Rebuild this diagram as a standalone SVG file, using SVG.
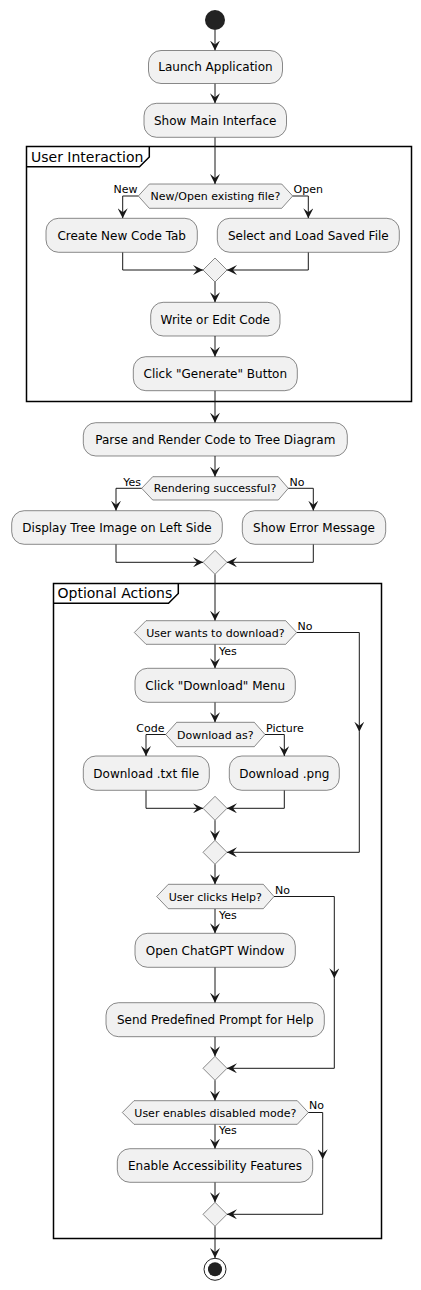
<svg xmlns="http://www.w3.org/2000/svg" width="421" height="1290" viewBox="0 0 421 1290">
<style>
.act{fill:#F1F1F1;stroke:#181818;stroke-width:0.5}
.t{font-family:"DejaVu Sans",sans-serif;font-size:12px;fill:#000;text-anchor:middle}
.d{font-family:"DejaVu Sans",sans-serif;font-size:11px;fill:#000;text-anchor:middle}
.l{font-family:"DejaVu Sans",sans-serif;font-size:11px;fill:#000}
.le{font-family:"DejaVu Sans",sans-serif;font-size:11px;fill:#000;text-anchor:end}
.ft{font-family:"DejaVu Sans",sans-serif;font-size:14px;fill:#000}
.frame{fill:none;stroke:#000;stroke-width:1.5}
.c{fill:none;stroke:#181818;stroke-width:1;marker-end:url(#ah)}
.cn{fill:none;stroke:#181818;stroke-width:1}
</style>
<defs>
<marker id="ah" viewBox="0 0 10 10" refX="10" refY="5" markerWidth="10" markerHeight="10" markerUnits="userSpaceOnUse" orient="auto">
<path d="M0,0 L10,5 L0,10 L4,5 Z" fill="#181818"/>
</marker>
</defs>
<rect width="421" height="1290" fill="#fff"/>
<g id="frames">
<g id="frame-user-interaction">
<rect class="frame" x="26.5" y="146.5" width="385" height="255"/>
<path class="frame" d="M26.5,166.7 L139.5,166.7 L149.3,157 L149.3,146.5"/>
<text class="ft" x="31" y="161.5">User Interaction</text>
</g>
<g id="frame-optional-actions">
<rect class="frame" x="53.5" y="583.5" width="328" height="655"/>
<path class="frame" d="M53.5,603.3 L168.5,603.3 L178.3,593.5 L178.3,583.5"/>
<text class="ft" x="57.5" y="598">Optional Actions</text>
</g>
</g>
<g id="connectors">
<path class="c" d="M215,30 L215,50.5"/>
<path class="c" d="M215,83.5 L215,103.3"/>
<path class="c" d="M215,137.3 L215,184"/>
<path class="c" d="M138.3,196 L122.7,196 L122.7,218.3"/>
<path class="c" d="M292.7,196 L308.3,196 L308.3,218.3"/>
<path class="c" d="M122.7,252.3 L122.7,270 L203,270"/>
<path class="c" d="M308.3,252.3 L308.3,270 L227,270"/>
<path class="c" d="M215,282 L215,302.3"/>
<path class="c" d="M215,336 L215,356.7"/>
<path class="c" d="M215,390.7 L215,422.7"/>
<path class="c" d="M215,456 L215,476.7"/>
<path class="c" d="M141.7,488.3 L116,488.3 L116,510.7"/>
<path class="c" d="M288.3,488.3 L313.3,488.3 L313.3,510.7"/>
<path class="c" d="M116,544.3 L116,562.3 L203,562.3"/>
<path class="c" d="M313.3,544.3 L313.3,562.3 L227,562.3"/>
<path class="c" d="M215,574.3 L215,620.7"/>
<path class="c" d="M215,644.3 L215,668.3"/>
<path class="c" d="M296.7,632.5 L359.3,632.5 L359.3,731.7"/>
<path class="c" d="M359.3,731.7 L359.3,852.3 L227,852.3"/>
<path class="c" d="M215,702.3 L215,722.3"/>
<path class="c" d="M165.7,734.5 L146,734.5 L146,756"/>
<path class="c" d="M265,734.5 L284.3,734.5 L284.3,756"/>
<path class="c" d="M146,790.3 L146,808.3 L203,808.3"/>
<path class="c" d="M284.3,790.3 L284.3,808.3 L227,808.3"/>
<path class="c" d="M215,820.3 L215,840.3"/>
<path class="c" d="M215,864.3 L215,884.3"/>
<path class="c" d="M215,908.7 L215,933.3"/>
<path class="c" d="M274,896.5 L334.3,896.5 L334.3,978.3"/>
<path class="c" d="M334.3,978.3 L334.3,1068.3 L227,1068.3"/>
<path class="c" d="M215,967.3 L215,1002.7"/>
<path class="c" d="M215,1036.7 L215,1056.3"/>
<path class="c" d="M215,1080.3 L215,1100.7"/>
<path class="c" d="M215,1124.3 L215,1148.7"/>
<path class="c" d="M308.3,1112.5 L322.7,1112.5 L322.7,1159.3"/>
<path class="c" d="M322.7,1159.3 L322.7,1214.3 L227,1214.3"/>
<path class="c" d="M215,1182.3 L215,1202.3"/>
<path class="c" d="M215,1226.3 L215,1258"/>
<text class="le" x="137.5" y="193">New</text>
<text class="l" x="293.5" y="193">Open</text>
<text class="le" x="141" y="485.5">Yes</text>
<text class="l" x="289.5" y="485.5">No</text>
<text class="l" x="297.5" y="630">No</text>
<text class="l" x="219" y="655">Yes</text>
<text class="le" x="164.5" y="732">Code</text>
<text class="l" x="266" y="732">Picture</text>
<text class="l" x="275" y="894">No</text>
<text class="l" x="219" y="919">Yes</text>
<text class="l" x="309" y="1109">No</text>
<text class="l" x="219" y="1134">Yes</text>
</g>
<g id="start"><circle cx="215" cy="20" r="10" fill="#222"/></g>
<g id="launch"><rect class="act" x="148.5" y="50.5" width="134" height="33" rx="12.5"/><text class="t" x="215.5" y="71.3">Launch Application</text></g>
<g id="show-main"><rect class="act" x="144" y="103.3" width="142.5" height="34" rx="12.5"/><text class="t" x="215.2" y="124.6">Show Main Interface</text></g>
<g id="dec-new-open"><polygon class="act" points="138.3,196 149.3,184 281.7,184 292.7,196 281.7,208.3 149.3,208.3"/><text class="d" x="215.5" y="200">New/Open existing file?</text></g>
<g id="create-new"><rect class="act" x="46" y="218.3" width="151.3" height="34" rx="12.5"/><text class="t" x="121.7" y="239.6">Create New Code Tab</text></g>
<g id="select-load"><rect class="act" x="217.3" y="218.3" width="182" height="34" rx="12.5"/><text class="t" x="308.3" y="239.6">Select and Load Saved File</text></g>
<g id="merge1"><polygon class="act" points="203,270 215,258 227,270 215,282"/></g>
<g id="write-edit"><rect class="act" x="150.7" y="302.3" width="129.3" height="33.7" rx="12.5"/><text class="t" x="215.3" y="323.5">Write or Edit Code</text></g>
<g id="click-generate"><rect class="act" x="133.3" y="356.7" width="164" height="34" rx="12.5"/><text class="t" x="215.3" y="378">Click "Generate" Button</text></g>
<g id="parse-render"><rect class="act" x="83.3" y="422.7" width="264" height="33.3" rx="12.5"/><text class="t" x="215.3" y="443.6">Parse and Render Code to Tree Diagram</text></g>
<g id="dec-rendering"><polygon class="act" points="141.7,488.3 152.7,476.7 278.3,476.7 288.3,488.3 278.3,500 152.7,500"/><text class="d" x="215" y="492.3">Rendering successful?</text></g>
<g id="display-tree"><rect class="act" x="11.7" y="510.7" width="210.6" height="33.6" rx="12.5"/><text class="t" x="117" y="531.8">Display Tree Image on Left Side</text></g>
<g id="show-error"><rect class="act" x="242.3" y="510.7" width="143.4" height="33.6" rx="12.5"/><text class="t" x="314" y="531.8">Show Error Message</text></g>
<g id="merge2"><polygon class="act" points="203,562.3 215,550.3 227,562.3 215,574.3"/></g>
<g id="dec-download"><polygon class="act" points="134.3,632.5 146,620.7 285.7,620.7 296.7,632.5 285.7,644.3 146,644.3"/><text class="d" x="215.5" y="636.5">User wants to download?</text></g>
<g id="click-download"><rect class="act" x="135" y="668.3" width="160.3" height="34" rx="12.5"/><text class="t" x="215.2" y="689.6">Click "Download" Menu</text></g>
<g id="dec-download-as"><polygon class="act" points="165.7,734.5 176.7,722.3 254.3,722.3 265,734.5 254.3,746.7 176.7,746.7"/><text class="d" x="215.3" y="738.5">Download as?</text></g>
<g id="download-txt"><rect class="act" x="83.3" y="756" width="126" height="34.3" rx="12.5"/><text class="t" x="146.3" y="777.5">Download .txt file</text></g>
<g id="download-png"><rect class="act" x="229.3" y="756" width="110" height="34.3" rx="12.5"/><text class="t" x="284.3" y="777.5">Download .png</text></g>
<g id="merge3"><polygon class="act" points="203,808.3 215,796.3 227,808.3 215,820.3"/></g>
<g id="merge4"><polygon class="act" points="203,852.3 215,840.3 227,852.3 215,864.3"/></g>
<g id="dec-help"><polygon class="act" points="156.7,896.5 168.3,884.3 263.3,884.3 274,896.5 263.3,908.7 168.3,908.7"/><text class="d" x="215.3" y="900.5">User clicks Help?</text></g>
<g id="open-chatgpt"><rect class="act" x="135" y="933.3" width="160.3" height="34" rx="12.5"/><text class="t" x="215.2" y="954.6">Open ChatGPT Window</text></g>
<g id="send-prompt"><rect class="act" x="106" y="1002.7" width="218.3" height="34" rx="12.5"/><text class="t" x="215.2" y="1024">Send Predefined Prompt for Help</text></g>
<g id="merge5"><polygon class="act" points="203,1068.3 215,1056.3 227,1068.3 215,1080.3"/></g>
<g id="dec-disabled"><polygon class="act" points="122.3,1112.5 134,1100.7 297.3,1100.7 308.3,1112.5 297.3,1124.3 134,1124.3"/><text class="d" x="215.3" y="1116.5">User enables disabled mode?</text></g>
<g id="enable-access"><rect class="act" x="117.3" y="1148.7" width="195.4" height="33.6" rx="12.5"/><text class="t" x="215" y="1169.8">Enable Accessibility Features</text></g>
<g id="merge6"><polygon class="act" points="203,1214.3 215,1202.3 227,1214.3 215,1226.3"/></g>
<g id="end"><circle cx="215" cy="1269.3" r="11" fill="none" stroke="#222" stroke-width="1"/><circle cx="215" cy="1269.3" r="7" fill="#222"/></g>
</svg>
